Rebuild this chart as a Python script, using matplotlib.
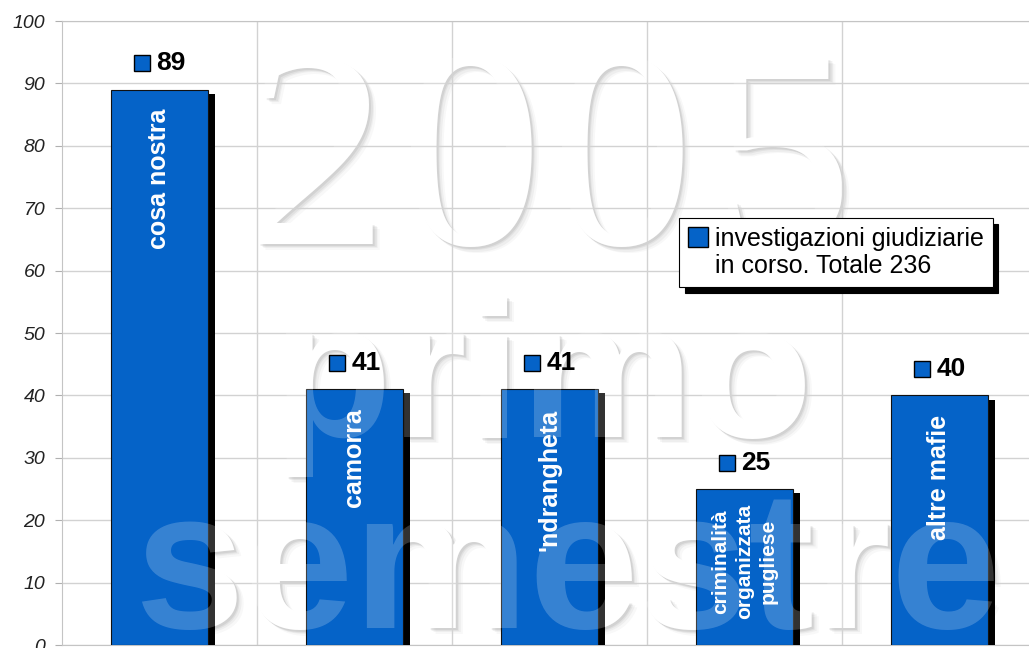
import matplotlib
matplotlib.use("Agg")
import matplotlib.pyplot as plt
from matplotlib import patheffects as pe
from matplotlib.patches import Patch, Rectangle
from matplotlib.offsetbox import AnnotationBbox, HPacker, TextArea, DrawingArea

plt.rcParams["font.family"] = ["Liberation Sans", "DejaVu Sans"]

# dati
categorie = ["cosa nostra", "camorra", "'ndrangheta",
             "criminalità\norganizzata\npugliese", "altre mafie"]
valori = [89, 41, 41, 25, 40]
legenda = ["investigazioni giudiziarie", "in corso. Totale 236"]
yticks = list(range(0, 101, 10))

W, H = 1029, 648
BLU = "#0563C8"

fig = plt.figure(figsize=(W / 100, H / 100), dpi=100)
ax = fig.add_axes([62 / W, 3 / H, 975 / W, 624 / H])

x = list(range(len(categorie)))
ax.set_xlim(-0.5, len(categorie) - 0.5)
ax.set_ylim(0, 100)
ax.set_yticks(yticks)
ax.set_xticks([])
ax.set_xticks([i + 0.5 for i in x[:-1]], minor=True)
ax.set_axisbelow(True)
ax.grid(axis="y", color="#d2d2d2", lw=1)
ax.grid(axis="x", which="minor", color="#d2d2d2", lw=1)
ax.tick_params(axis="x", which="both", length=0, labelbottom=False)
ax.tick_params(axis="y", length=5, color="#b0b0b0", pad=7)
for lab in ax.get_yticklabels():
    lab.set_fontsize(14)
    lab.set_fontstyle("italic")
    lab.set_color("#222222")
for s in ax.spines.values():
    s.set_color("#c4c4c4")


def filigrana(testo, px, py, size, family, weight="normal"):
    """scritta di sfondo: ombra grigia, bianco sotto la griglia, velo sopra le barre"""
    tx, ty = px / W, 1 - py / H
    kw = dict(transform=fig.transFigure, ha="center", va="baseline",
              fontsize=size, family=family, fontweight=weight, clip_on=False)
    for dx, dy, a in [(7, -6, 0.04), (5, -4.5, 0.06), (3.5, -3, 0.08), (2, -2, 0.10)]:
        ax.text(tx + dx / W, ty + dy / H, testo, color="#505050", alpha=a, zorder=0.2, **kw)
    ax.text(tx, ty, testo, color="white", zorder=0.3, **kw)
    ax.text(tx, ty, testo, color="white", alpha=0.2, zorder=4, **kw)


for ch, px in zip("2005", [317, 470, 621, 782]):
    filigrana(ch, px, 244, 205, "Liberation Serif")
filigrana("primo", 542, 437, 140, "Liberation Sans", "bold")
filigrana("semestre", 567, 628, 142, "Liberation Sans", "bold")

ax.bar(x, valori, width=0.5, color=BLU, edgecolor="#111111", lw=0.8, zorder=3,
       path_effects=[pe.SimplePatchShadow(offset=(5, -3), shadow_rgbFace="black", alpha=1),
                     pe.Normal()])

for i, (c, v) in enumerate(zip(categorie, valori)):
    multi = "\n" in c
    ax.annotate(c, (i, v), xytext=(0, -11 if multi else -14), textcoords="offset points",
                rotation=90, ha="center", va="top", multialignment="center",
                color="white", fontweight="bold", fontsize=15 if multi else 18,
                linespacing=1.3, zorder=3.5)

    da = DrawingArea(12.5, 12.5, 0, 0)
    da.add_artist(Rectangle((0.5, 0.5), 11.5, 11.5, fc=BLU, ec="black", lw=1))
    ta = TextArea(str(v), textprops=dict(fontsize=19, fontweight="bold", color="black"))
    box = HPacker(children=[da, ta], align="center", pad=0, sep=4)
    ab = AnnotationBbox(box, (i, v), xybox=(0, 19), boxcoords="offset points",
                        frameon=False, box_alignment=(0.5, 0.5), zorder=4.5)
    ax.add_artist(ab)

handles = [Patch(fc=BLU, ec="black", lw=1), Patch(fc="none", ec="none")]
leg = ax.legend(handles, legenda, loc="upper left",
                bbox_to_anchor=(679 / W, 1 - 218 / H), bbox_transform=fig.transFigure,
                fontsize=18, fancybox=False, framealpha=1, edgecolor="black",
                shadow={"color": "black", "alpha": 1, "ox": 4, "oy": -4},
                handlelength=0.8, handleheight=0.8, handletextpad=0.3,
                labelspacing=0.15, borderpad=0.35, borderaxespad=0)
leg.get_frame().set_linewidth(0.8)
leg.set_zorder(5)

fig.savefig("out.png", dpi=100)
